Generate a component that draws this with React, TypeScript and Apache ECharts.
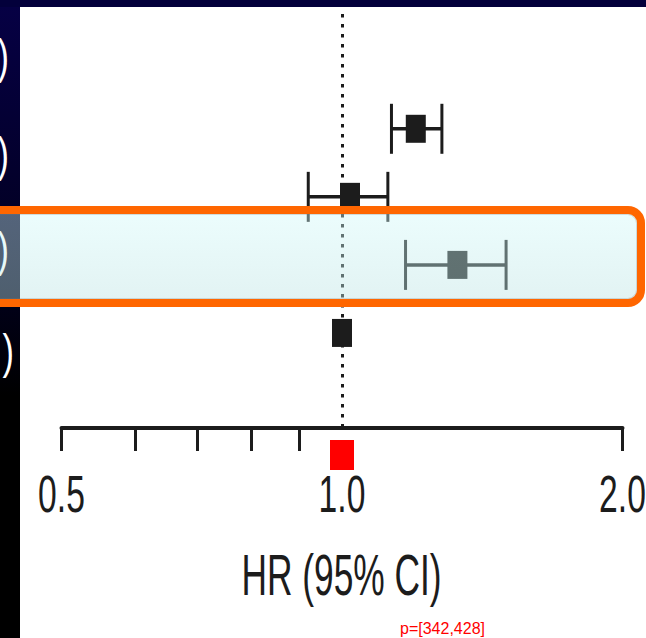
import React, { useEffect, useRef } from 'react';
import * as echarts from 'echarts';

// ---- data ----
const rowIndex = [1, 2, 3, 4];
const hrValues = [1.2, 1.02, 1.33, 1.0];
const ciLower: (number | null)[] = [1.13, 0.92, 1.17, null];
const ciUpper: (number | null)[] = [1.28, 1.12, 1.5, null];
const minorTicks = [0.5, 0.6, 0.7, 0.8, 0.9, 2.0];
const majorTicks = [1.0];
const tickLabels = [0.5, 1.0, 2.0];
const axisTitle = 'HR (95% CI)';
const refValue = 1.0;
const cutLabels = [')', ')', ')', ')'];

export default function App() {
  const ref = useRef<HTMLDivElement>(null);
  useEffect(() => {
    const chart = echarts.init(ref.current!, null, { renderer: 'svg' });
    const ink = '#1c1c1c';
    const Y_MIN = -0.687;
    const Y_MAX = 5.397;
    const ciData = rowIndex.map((r, i) => [
      hrValues[i],
      r,
      ciLower[i] == null ? '-' : ciLower[i],
      ciUpper[i] == null ? '-' : ciUpper[i],
    ]);
    const labelData = tickLabels.map((v) => [v, Y_MAX]);
    const parenY = [56, 154, 249, 351];
    const parenX = [9, 9, 9, 14];

    chart.setOption({
      animation: false,
      backgroundColor: '#ffffff',
      grid: { left: 61.5, right: 23.5, top: 14, bottom: 210 },
      xAxis: {
        type: 'log',
        logBase: 2,
        min: 0.5,
        max: 2,
        position: 'bottom',
        axisLine: { show: true, onZero: false, lineStyle: { color: ink, width: 4 } },
        axisTick: { show: true, customValues: minorTicks, length: 23, lineStyle: { color: ink, width: 3 } },
        minorTick: { show: false },
        axisLabel: { show: false },
        splitLine: { show: false },
      },
      yAxis: { type: 'value', inverse: true, min: Y_MIN, max: Y_MAX, show: false },
      series: [
        {
          type: 'scatter',
          data: [],
          silent: true,
          markLine: {
            silent: true,
            symbol: ['none', 'none'],
            label: { show: false },
            lineStyle: { color: ink, width: 3, type: [3.5, 6.5] },
            data: [{ xAxis: refValue }],
          },
        },
        {
          type: 'custom',
          clip: false,
          silent: true,
          encode: { x: [0, 2, 3], y: 1 },
          data: ciData,
          renderItem: (params: any, api: any) => {
            const hr = api.value(0);
            const y = api.value(1);
            const lo = api.value(2);
            const hi = api.value(3);
            const c = api.coord([hr, y]);
            const children: any[] = [];
            if (!isNaN(lo) && !isNaN(hi) && lo != null && hi != null) {
              const pl = api.coord([lo, y]);
              const ph = api.coord([hi, y]);
              children.push({
                type: 'line',
                shape: { x1: pl[0], y1: c[1], x2: ph[0], y2: c[1] },
                style: { stroke: ink, lineWidth: 3.5 },
              });
              children.push({
                type: 'line',
                shape: { x1: pl[0], y1: c[1] - 25, x2: pl[0], y2: c[1] + 25 },
                style: { stroke: ink, lineWidth: 3 },
              });
              children.push({
                type: 'line',
                shape: { x1: ph[0], y1: c[1] - 25, x2: ph[0], y2: c[1] + 25 },
                style: { stroke: ink, lineWidth: 3 },
              });
            }
            children.push({
              type: 'rect',
              shape: { x: c[0] - 10, y: c[1] - 14, width: 20, height: 28 },
              style: { fill: ink },
            });
            return { type: 'group', children };
          },
        },
        {
          type: 'custom',
          clip: false,
          silent: true,
          encode: { x: 0, y: 1 },
          data: labelData,
          renderItem: (params: any, api: any) => {
            const v = Number(api.value(0));
            const p = api.coord([v, api.value(1)]);
            return {
              type: 'text',
              x: p[0],
              y: p[1] + 66.3,
              scaleX: 0.66,
              style: {
                text: v.toFixed(1),
                fontSize: 51,
                fontFamily: 'Liberation Sans, Arial, sans-serif',
                fill: ink,
                align: 'center',
                verticalAlign: 'middle',
              },
            };
          },
        },
      ],
      graphic: [
        {
          id: 'leftStrip',
          type: 'rect',
          z: 0,
          silent: true,
          shape: { x: 0, y: 0, width: 20, height: 638 },
          style: {
            fill: new echarts.graphic.LinearGradient(0, 0, 0, 1, [
              { offset: 0, color: '#060045' },
              { offset: 0.45, color: '#01001c' },
              { offset: 0.62, color: '#000000' },
              { offset: 1, color: '#000000' },
            ]),
          },
        },
        {
          id: 'topStrip',
          type: 'rect',
          z: 0,
          silent: true,
          shape: { x: 0, y: 0, width: 646, height: 7 },
          style: { fill: '#03003b' },
        },
        ...cutLabels.map((t, i) => ({
          id: 'paren' + i,
          type: 'text',
          z: 1,
          silent: true,
          x: parenX[i],
          y: parenY[i],
          scaleX: 0.7,
          style: {
            text: t,
            fontSize: 49,
            fontFamily: 'Liberation Sans, Arial, sans-serif',
            fill: '#ffffff',
            align: 'right',
            verticalAlign: 'middle',
          },
        })),
        {
          id: 'axisTitle',
          type: 'text',
          z: 1,
          silent: true,
          x: 341.5,
          y: 575.3,
          scaleX: 0.62,
          style: {
            text: axisTitle,
            fontSize: 57,
            fontFamily: 'Liberation Sans, Arial, sans-serif',
            fill: ink,
            align: 'center',
            verticalAlign: 'middle',
          },
        },
        {
          id: 'highlight',
          type: 'rect',
          z: 100,
          silent: true,
          shape: { x: -20, y: 210, width: 661, height: 93, r: 13 },
          style: {
            fill: new echarts.graphic.LinearGradient(0, 0, 0, 1, [
              { offset: 0, color: 'rgba(207,250,250,0.4)' },
              { offset: 1, color: 'rgba(185,225,225,0.42)' },
            ]),
            stroke: '#ff6600',
            lineWidth: 8,
          },
        },
        {
          id: 'highlightInner',
          type: 'rect',
          z: 101,
          silent: true,
          shape: { x: -16, y: 214.5, width: 652.5, height: 84, r: 9 },
          style: { fill: 'none', stroke: 'rgba(120,120,120,0.25)', lineWidth: 1 },
        },
      ],
    });

    const p = chart.convertToPixel({ xAxisIndex: 0, yAxisIndex: 0 }, [majorTicks[0], Y_MAX]) as any;
    chart.setOption({
      graphic: [
        {
          id: 'dbgTick',
          type: 'rect',
          z: 200,
          shape: { x: 330, y: 440, width: 24, height: 30 },
          style: { fill: '#ff0000' },
        },
        {
          id: 'dbgText',
          type: 'text',
          z: 200,
          x: 400,
          y: 620,
          style: { text: 'p=' + JSON.stringify(p), fontSize: 16, fill: '#ff0000' },
        },
      ],
    });

    return () => chart.dispose();
  }, []);
  return (
    <div
      ref={ref}
      style={{ position: 'absolute', left: 0, top: 0, width: 646, height: 638 }}
    />
  );
}
